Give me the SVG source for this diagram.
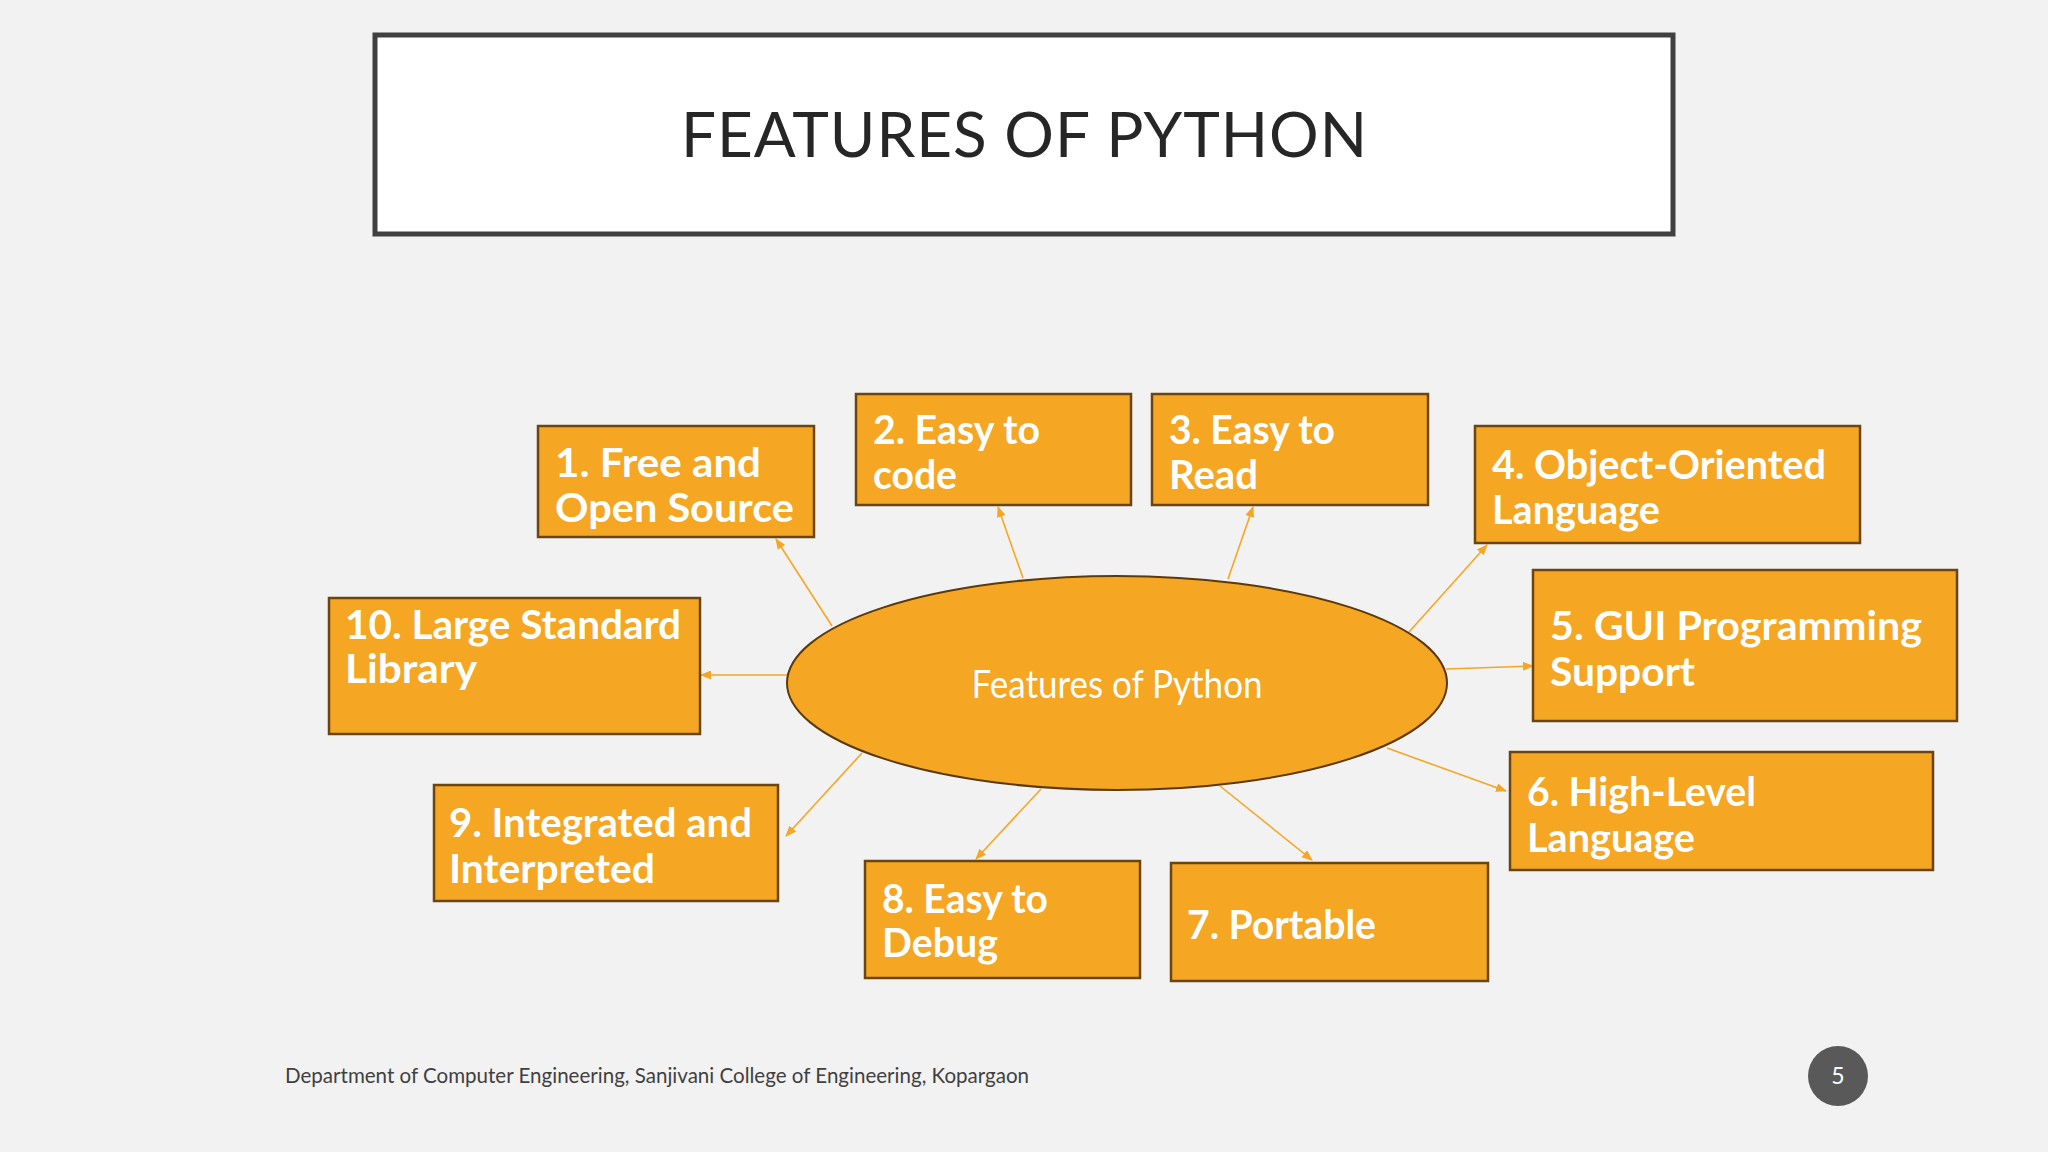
<svg xmlns="http://www.w3.org/2000/svg" width="2048" height="1152" viewBox="0 0 2048 1152">
<defs>
<marker id="ah" markerWidth="11" markerHeight="9" refX="10" refY="4.5" orient="auto" markerUnits="userSpaceOnUse">
<path d="M0,0 L11,4.5 L0,9 Z" fill="#F5A623"/>
</marker>
<style>
.box{fill:#F5A623;stroke:#6B4510;stroke-width:2.5}
.lbl{font-family:Lato,"Open Sans","Liberation Sans",sans-serif;font-weight:bold;font-size:40px;fill:#FFFFFF}
.con{stroke:#F5A623;stroke-width:1.6;fill:none;marker-end:url(#ah)}
</style>
</defs>
<rect width="2048" height="1152" fill="#F2F2F2"/>
<g id="title">
<rect x="375" y="35" width="1298" height="199" fill="#FFFFFF" stroke="#404040" stroke-width="5"/>
<text x="681" y="157" font-family="Lato,'Open Sans','Liberation Sans',sans-serif" font-size="62" fill="#262626" textLength="686" lengthAdjust="spacing">FEATURES OF PYTHON</text>
</g>
<g id="connectors">
<line class="con" x1="832" y1="626" x2="776" y2="539"/>
<line class="con" x1="1023" y1="578" x2="998" y2="507"/>
<line class="con" x1="1228" y1="579" x2="1253" y2="507"/>
<line class="con" x1="1409" y1="632" x2="1487" y2="545"/>
<line class="con" x1="1446" y1="669" x2="1533" y2="666"/>
<line class="con" x1="1387" y1="748" x2="1506" y2="791"/>
<line class="con" x1="1220" y1="786" x2="1312" y2="860"/>
<line class="con" x1="1041" y1="789" x2="976" y2="859"/>
<line class="con" x1="862" y1="753" x2="786" y2="836"/>
<line class="con" x1="787" y1="675" x2="701" y2="675"/>
</g>
<g id="center">
<ellipse cx="1117" cy="683" rx="330" ry="107" fill="#F5A623" stroke="#5A3A0C" stroke-width="2"/>
<text x="1117" y="698" text-anchor="middle" font-family="Lato,'Open Sans','Liberation Sans',sans-serif" font-size="38" fill="#FFFFFF" textLength="291" lengthAdjust="spacingAndGlyphs">Features of Python</text>
</g>
<g id="n1">
<rect class="box" x="538" y="426" width="276" height="111"/>
<text class="lbl" x="555" y="477" textLength="206" lengthAdjust="spacingAndGlyphs">1. Free and</text>
<text class="lbl" x="555" y="522" textLength="239" lengthAdjust="spacingAndGlyphs">Open Source</text>
</g>
<g id="n2">
<rect class="box" x="856" y="394" width="275" height="111"/>
<text class="lbl" x="873" y="444" textLength="167" lengthAdjust="spacingAndGlyphs">2. Easy to</text>
<text class="lbl" x="873" y="489" textLength="84" lengthAdjust="spacingAndGlyphs">code</text>
</g>
<g id="n3">
<rect class="box" x="1152" y="394" width="276" height="111"/>
<text class="lbl" x="1169" y="444" textLength="166" lengthAdjust="spacingAndGlyphs">3. Easy to</text>
<text class="lbl" x="1169" y="489" textLength="89" lengthAdjust="spacingAndGlyphs">Read</text>
</g>
<g id="n4">
<rect class="box" x="1475" y="426" width="385" height="117"/>
<text class="lbl" x="1492" y="479" textLength="334" lengthAdjust="spacingAndGlyphs">4. Object-Oriented</text>
<text class="lbl" x="1492" y="524" textLength="168" lengthAdjust="spacingAndGlyphs">Language</text>
</g>
<g id="n5">
<rect class="box" x="1533" y="570" width="424" height="151"/>
<text class="lbl" x="1550" y="640" textLength="372" lengthAdjust="spacingAndGlyphs">5. GUI Programming</text>
<text class="lbl" x="1550" y="686" textLength="145" lengthAdjust="spacingAndGlyphs">Support</text>
</g>
<g id="n6">
<rect class="box" x="1510" y="752" width="423" height="118"/>
<text class="lbl" x="1527" y="806" textLength="229" lengthAdjust="spacingAndGlyphs">6. High-Level</text>
<text class="lbl" x="1527" y="852" textLength="168" lengthAdjust="spacingAndGlyphs">Language</text>
</g>
<g id="n7">
<rect class="box" x="1171" y="863" width="317" height="118"/>
<text class="lbl" x="1187" y="939" textLength="189" lengthAdjust="spacingAndGlyphs">7. Portable</text>
</g>
<g id="n8">
<rect class="box" x="865" y="861" width="275" height="117"/>
<text class="lbl" x="882" y="913" textLength="166" lengthAdjust="spacingAndGlyphs">8. Easy to</text>
<text class="lbl" x="882" y="957" textLength="116" lengthAdjust="spacingAndGlyphs">Debug</text>
</g>
<g id="n9">
<rect class="box" x="434" y="785" width="344" height="116"/>
<text class="lbl" x="449" y="837" textLength="303" lengthAdjust="spacingAndGlyphs">9. Integrated and</text>
<text class="lbl" x="449" y="883" textLength="206" lengthAdjust="spacingAndGlyphs">Interpreted</text>
</g>
<g id="n10">
<rect class="box" x="329" y="598" width="371" height="136"/>
<text class="lbl" x="345" y="639" textLength="336" lengthAdjust="spacingAndGlyphs">10. Large Standard</text>
<text class="lbl" x="345" y="683" textLength="132" lengthAdjust="spacingAndGlyphs">Library</text>
</g>
<g id="footer">
<text x="285" y="1083" font-family="Lato,'Open Sans','Liberation Sans',sans-serif" font-size="21" fill="#404040" textLength="744" lengthAdjust="spacingAndGlyphs">Department of Computer Engineering, Sanjivani College of Engineering, Kopargaon</text>
<circle cx="1838" cy="1076" r="30" fill="#595959"/>
<text x="1838" y="1084" text-anchor="middle" font-family="Lato,'Open Sans','Liberation Sans',sans-serif" font-size="23" fill="#FFFFFF">5</text>
</g>
</svg>
